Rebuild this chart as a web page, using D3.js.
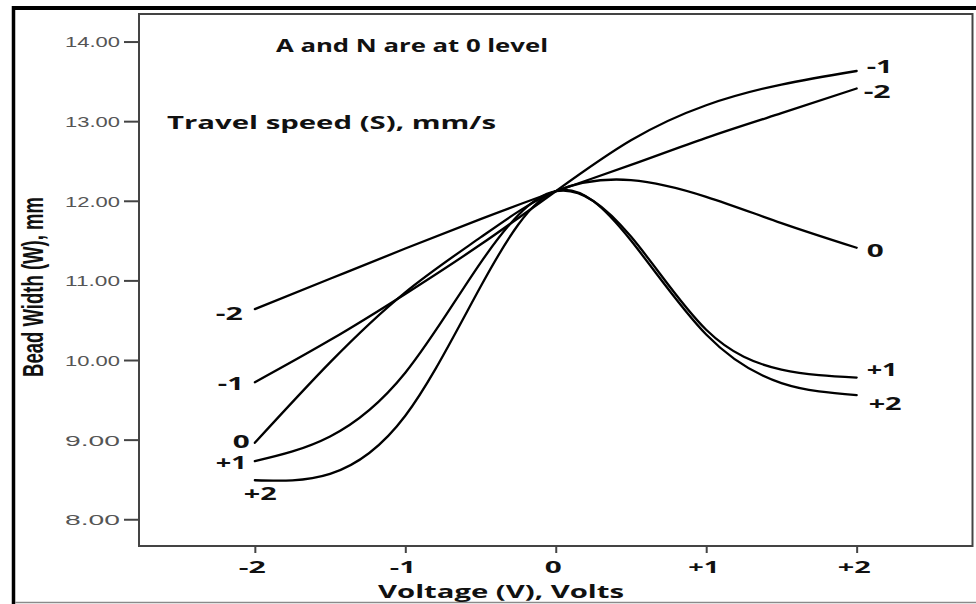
<!DOCTYPE html>
<html>
<head>
<meta charset="utf-8">
<script src="https://cdn.jsdelivr.net/npm/d3@7"></script>
<style>
  html, body { margin: 0; padding: 0; background: #fff; }
  svg { display: block; }
</style>
</head>
<body>
<script>
// Voltage levels (coded) at which bead width is sampled
const voltage = [-2, -1.5, -1, -0.5, 0, 0.5, 1, 1.5, 2];

// Travel speed levels (coded), one curve each
const speedLevels = ["-2", "-1", "0", "+1", "+2"];

// Bead width (mm) for each travel speed level, per voltage level
const widthSpeedMinus2 = [10.64, 11.02, 11.40, 11.77, 12.12, 12.45, 12.79, 13.10, 13.41];
const widthSpeedMinus1 = [9.72, 10.25, 10.83, 11.45, 12.12, 12.76, 13.20, 13.46, 13.63];
const widthSpeed0      = [8.96, 9.97, 10.85, 11.54, 12.12, 12.26, 12.05, 11.72, 11.41];
const widthSpeedPlus1  = [8.73, 9.04, 9.84, 11.22, 12.12, 11.55, 10.38, 9.88, 9.78];
const widthSpeedPlus2  = [8.49, 8.57, 9.30, 10.92, 12.12, 11.50, 10.32, 9.71, 9.56];

// Axis ticks
const yTicks = [8, 9, 10, 11, 12, 13, 14];
const xTicks = [-2, -1, 0, 1, 2];
const xTickLabels = ["-2", "-1", "0", "+1", "+2"];

const seriesWidths = [widthSpeedMinus2, widthSpeedMinus1, widthSpeed0, widthSpeedPlus1, widthSpeedPlus2];
const series = speedLevels.map((s, i) => ({
  level: s,
  points: voltage.map((v, j) => ({ v, w: seriesWidths[i][j] }))
}));

// ---- layout ----
const W = 976, H = 604;
const box = { left: 139, top: 14, right: 972.5, bottom: 546 };

// pixel nudges for the curve-end labels (left edge of text, baseline)
const labelPlacement = {
  "-2": { left: [-39, 11], right: [7, 9.5] },
  "-1": { left: [-37, 8],  right: [10, 2] },
  "0":  { left: [-22, 5],  right: [10, 9] },
  "+1": { left: [-39, 8],  right: [10, -1.5] },
  "+2": { left: [-11, 20], right: [12, 15] }
};
// rendered widths of the short level labels
const levelTextWidth = { "-2": 27, "-1": 26, "0": 17, "+1": 31, "+2": 33 };

const boldFont = "'Open Sans', 'DejaVu Sans', sans-serif";

const svg = d3.select("body").append("svg")
  .attr("width", W).attr("height", H);

svg.append("rect").attr("width", W).attr("height", H).attr("fill", "#fff");

// outer frame
svg.append("line").attr("x1", 12).attr("x2", W).attr("y1", 8).attr("y2", 8)
  .attr("stroke", "#000").attr("stroke-width", 4);
svg.append("line").attr("x1", 13.5).attr("x2", 13.5).attr("y1", 6).attr("y2", H)
  .attr("stroke", "#000").attr("stroke-width", 3.5);
svg.append("line").attr("x1", 15).attr("x2", W).attr("y1", 602.5).attr("y2", 602.5)
  .attr("stroke", "#8a8a8a").attr("stroke-width", 1.5);

// scales
const x = d3.scaleLinear().domain([-2.77, 2.77]).range([box.left, box.right]);
const y = d3.scaleLinear().domain([7.664, 14.346]).range([box.bottom, box.top]);

// plot box
svg.append("rect")
  .attr("x", box.left).attr("y", box.top)
  .attr("width", box.right - box.left).attr("height", box.bottom - box.top)
  .attr("fill", "none").attr("stroke", "#444").attr("stroke-width", 2);

// y axis
const yAxis = svg.append("g")
  .attr("transform", `translate(${box.left},0)`)
  .call(d3.axisLeft(y).tickValues(yTicks).tickFormat(d3.format(".2f")).tickSize(15).tickPadding(4));
yAxis.select(".domain").remove();
yAxis.selectAll(".tick line").attr("stroke", "#444").attr("stroke-width", 2);
yAxis.selectAll(".tick text")
  .attr("fill", "#555")
  .attr("font-family", "'Liberation Sans', Arial, sans-serif")
  .attr("font-size", 15)
  .attr("text-anchor", "start")
  .attr("x", -19 - 55)
  .attr("dy", "0.36em")
  .attr("textLength", 55)
  .attr("lengthAdjust", "spacingAndGlyphs");

// x axis
const xAxis = svg.append("g")
  .attr("transform", `translate(0,${box.bottom})`)
  .call(d3.axisBottom(x).tickValues(xTicks)
    .tickFormat((d, i) => xTickLabels[i]).tickSize(7));
xAxis.select(".domain").remove();
xAxis.selectAll(".tick line").attr("stroke", "#444").attr("stroke-width", 2);
xAxis.selectAll(".tick text")
  .attr("fill", "#111")
  .attr("font-family", boldFont)
  .attr("font-weight", 700)
  .attr("font-size", 16)
  .attr("text-anchor", "start")
  .attr("y", 27).attr("dy", 0)
  .attr("x", (d, i) => -levelTextWidth[xTickLabels[i]] / 2 - 3)
  .attr("textLength", (d, i) => levelTextWidth[xTickLabels[i]])
  .attr("lengthAdjust", "spacingAndGlyphs");

// curves: smooth natural splines through the sampled widths
const line = d3.line()
  .x(d => x(d.v))
  .y(d => y(d.w))
  .curve(d3.curveNatural);

svg.append("g").selectAll("path")
  .data(series)
  .join("path")
  .attr("d", d => line(d.points))
  .attr("fill", "none")
  .attr("stroke", "#000")
  .attr("stroke-width", 2.3)
  .attr("stroke-linecap", "round");

// level labels at both ends of each curve
const labelG = svg.append("g")
  .attr("font-family", boldFont)
  .attr("font-weight", 700)
  .attr("font-size", 17)
  .attr("fill", "#111");

series.forEach(s => {
  const first = s.points[0], last = s.points[s.points.length - 1];
  const p = labelPlacement[s.level];
  labelG.append("text")
    .attr("x", x(first.v) + p.left[0])
    .attr("y", y(first.w) + p.left[1])
    .attr("textLength", levelTextWidth[s.level])
    .attr("lengthAdjust", "spacingAndGlyphs")
    .text(s.level);
  labelG.append("text")
    .attr("x", x(last.v) + p.right[0])
    .attr("y", y(last.w) + p.right[1])
    .attr("textLength", levelTextWidth[s.level])
    .attr("lengthAdjust", "spacingAndGlyphs")
    .text(s.level);
});

// annotations
svg.append("text")
  .attr("x", 276).attr("y", 52)
  .attr("font-family", boldFont).attr("font-weight", 700).attr("font-size", 18)
  .attr("fill", "#111")
  .attr("textLength", 272).attr("lengthAdjust", "spacingAndGlyphs")
  .text("A and N are at 0 level");

svg.append("text")
  .attr("x", 167).attr("y", 129)
  .attr("font-family", boldFont).attr("font-weight", 700).attr("font-size", 18)
  .attr("fill", "#111")
  .attr("textLength", 329).attr("lengthAdjust", "spacingAndGlyphs")
  .text("Travel speed (S), mm/s");

// axis titles
svg.append("text")
  .attr("x", 378).attr("y", 598)
  .attr("font-family", boldFont).attr("font-weight", 700).attr("font-size", 17)
  .attr("fill", "#111")
  .attr("textLength", 246).attr("lengthAdjust", "spacingAndGlyphs")
  .text("Voltage (V), Volts");

svg.append("text")
  .attr("transform", "translate(43,287) rotate(-90)")
  .attr("x", -90).attr("y", 0)
  .attr("font-family", "'Liberation Sans', Arial, sans-serif").attr("font-weight", 700)
  .attr("font-size", 29)
  .attr("fill", "#111")
  .attr("textLength", 180).attr("lengthAdjust", "spacingAndGlyphs")
  .text("Bead Width (W), mm");
</script>
</body>
</html>
